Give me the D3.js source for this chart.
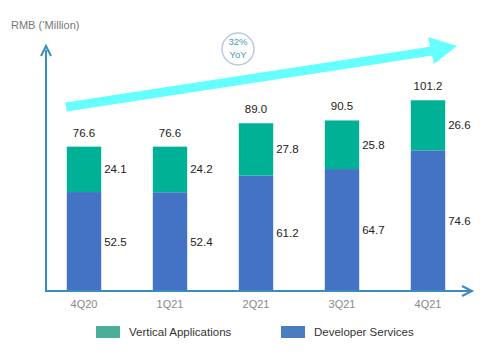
<!DOCTYPE html>
<html>
<head>
<meta charset="utf-8">
<script src="https://cdn.jsdelivr.net/npm/d3@7"></script>
<style>
  body { margin: 0; background: #fff; }
  svg { font-family: "Liberation Sans", Arial, sans-serif; }
</style>
</head>
<body>
<svg id="chart" width="500" height="362"></svg>
<script>
var quarters = ["4Q20", "1Q21", "2Q21", "3Q21", "4Q21"];
var developer = [52.5, 52.4, 61.2, 64.7, 74.6];
var vertical = [24.1, 24.2, 27.8, 25.8, 26.6];
var totals = [76.6, 76.6, 89.0, 90.5, 101.2];

var svg = d3.select("#chart");
var axisColor = "#3a8cc0";
var green = "#00b195";
var blue = "#4472c4";

var x0 = 46, yBase = 291;

var x = d3.scaleBand()
  .domain(quarters)
  .range([41, 471])
  .paddingInner(0.6)
  .paddingOuter(0.3);

var y = d3.scaleLinear()
  .domain([0, 130])
  .range([yBase, 46]);

// bars
var g = svg.append("g");
quarters.forEach(function(q, i) {
  var bx = x(q), bw = x.bandwidth();
  g.append("rect")
    .attr("x", bx).attr("width", bw)
    .attr("y", y(developer[i])).attr("height", y(0) - y(developer[i]))
    .attr("fill", blue);
  g.append("rect")
    .attr("x", bx).attr("width", bw)
    .attr("y", y(developer[i] + vertical[i])).attr("height", y(0) - y(vertical[i]))
    .attr("fill", green);
  // labels
  g.append("text")
    .attr("x", bx + bw + 3).attr("y", y(developer[i] / 2) + 4)
    .attr("font-size", 11.5).attr("fill", "#222")
    .text(developer[i].toFixed(1));
  g.append("text")
    .attr("x", bx + bw + 3).attr("y", y(developer[i] + vertical[i] / 2) + 4)
    .attr("font-size", 11.5).attr("fill", "#222")
    .text(vertical[i].toFixed(1));
  g.append("text")
    .attr("x", bx + bw / 2).attr("y", y(totals[i]) - 10)
    .attr("text-anchor", "middle")
    .attr("font-size", 11.5).attr("fill", "#222")
    .text(totals[i].toFixed(1));
});

// axes
svg.append("line")
  .attr("x1", x0).attr("y1", yBase).attr("x2", x0).attr("y2", 50)
  .attr("stroke", axisColor).attr("stroke-width", 2);
svg.append("path")
  .attr("d", "M" + (x0 - 5) + ",56 L" + x0 + ",46 L" + (x0 + 5) + ",56")
  .attr("fill", "none").attr("stroke", axisColor).attr("stroke-width", 2);
svg.append("line")
  .attr("x1", x0 - 1).attr("y1", yBase).attr("x2", 470).attr("y2", yBase)
  .attr("stroke", axisColor).attr("stroke-width", 2);
svg.append("path")
  .attr("d", "M462," + (yBase - 5) + " L472," + yBase + " L462," + (yBase + 5))
  .attr("fill", "none").attr("stroke", axisColor).attr("stroke-width", 2);

var xAxis = svg.append("g")
  .attr("transform", "translate(0," + yBase + ")")
  .call(d3.axisBottom(x).tickSize(0).tickPadding(9));
xAxis.select(".domain").remove();
xAxis.selectAll("text")
  .attr("font-size", 11).attr("fill", "#888")
  .attr("font-family", "Liberation Sans, Arial, sans-serif");

// unit label
svg.append("text")
  .attr("x", 11).attr("y", 29)
  .attr("font-size", 11).attr("fill", "#777")
  .text("RMB (\u2018Million)");

// growth arrow
svg.append("path")
  .attr("d", "M66,107 L432,51")
  .attr("stroke", "#66ffff").attr("stroke-width", 9).attr("fill", "none");
svg.append("path")
  .attr("d", "M428,37 L457,46 L434,64 Z")
  .attr("fill", "#66ffff");

// yoy bubble
svg.append("circle")
  .attr("cx", 238).attr("cy", 49).attr("r", 16)
  .attr("fill", "#fff").attr("stroke", "#b7c9e2").attr("stroke-width", 1.5);
svg.append("text")
  .attr("x", 238).attr("y", 45).attr("text-anchor", "middle")
  .attr("font-size", 9.5).attr("fill", "#4a9ab8").text("32%");
svg.append("text")
  .attr("x", 238).attr("y", 58).attr("text-anchor", "middle")
  .attr("font-size", 9.5).attr("fill", "#4a9ab8").text("YoY");

// legend
var legend = [
  { name: "Vertical Applications", color: "#4aaf96", x: 96 },
  { name: "Developer Services", color: "#4a7cc0", x: 281 }
];
legend.forEach(function(d) {
  svg.append("rect")
    .attr("x", d.x).attr("y", 326).attr("width", 24).attr("height", 12)
    .attr("fill", d.color);
  svg.append("text")
    .attr("x", d.x + 33).attr("y", 336)
    .attr("font-size", 11.5).attr("fill", "#333")
    .text(d.name);
});
</script>
</body>
</html>
